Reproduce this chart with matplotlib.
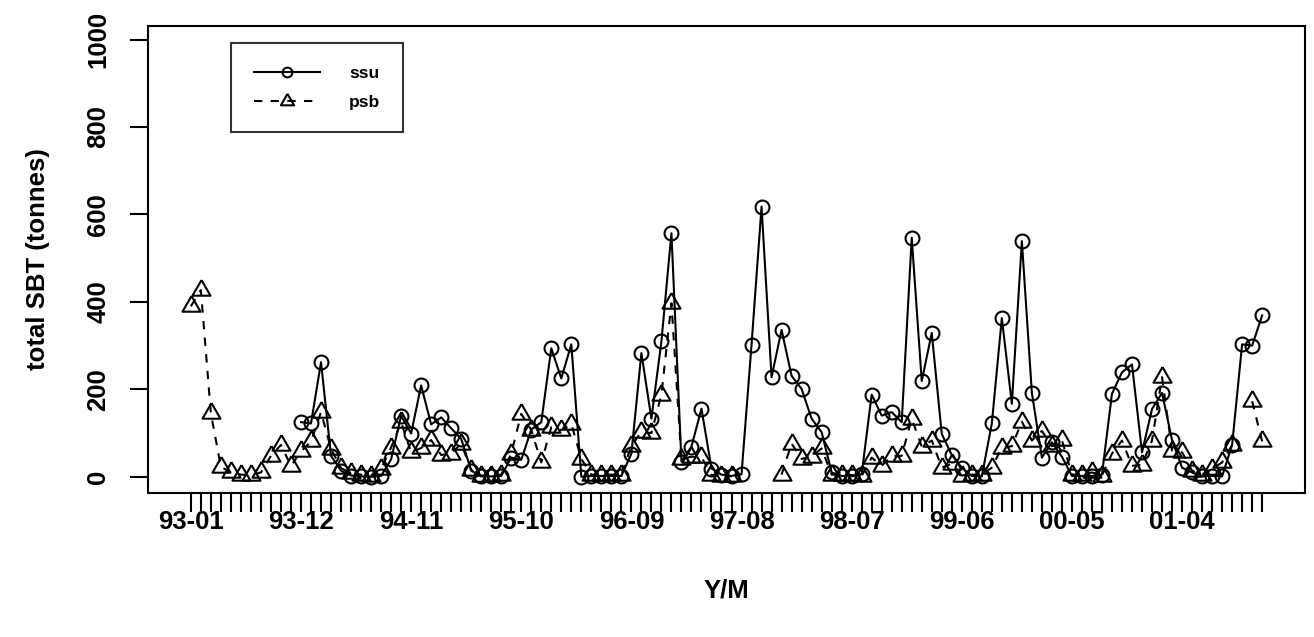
"""
Total SBT by month: ssu vs psb
"""

import numpy as np
import matplotlib.pyplot as plt
from matplotlib.lines import Line2D

plt.rcParams['font.family'] = ['Liberation Sans', 'DejaVu Sans']
plt.rcParams['font.weight'] = 'bold'

# =============================================
# 1. DATA (tonnes per month, 93-01 .. 01-12)
# =============================================
nan = np.nan

ssu = [nan, nan, nan, nan, nan, nan, nan, nan, nan, nan, nan,
       125, 122, 262, 48, 14, 3, 1, 0, 2, 40, 140, 99, 209, 120, 136, 111, 87, 14,
       1, 1, 2, 44, 39, 108, 125, 294, 225, 303, 0, 2, 2, 2, 2, 53, 283, 133, 310,
       557, 35, 69, 156, 19, 5, 2, 6, 302, 618, 228, 336, 231, 201, 133, 102, 10,
       2, 1, 6, 188, 140, 148, 125, 547, 219, 329, 98, 50, 21, 2, 1, 122, 363, 167,
       539, 192, 44, 79, 46, 2, 2, 2, 5, 190, 239, 257, 56, 155, 192, 84, 21, 10,
       1, 2, 1, 73, 303, 300, 369]

psb = [390, 427, 145, 23, 10, 5, 4, 10, 48, 73, 25,
       58, 81, 148, 64, 20, 8, 5, 3, 18, 67, 125, 56, 66, 84, 50, 53, 76, 16,
       3, 3, 5, 53, 144, 107, 33, 113, 107, 121, 41, 5, 5, 5, 5, 71, 103, 100, 188,
       397, 41, 46, 45, 4, 3, 1, nan, nan, nan, nan, 5, 76, 41, 46, 65, 5,
       5, 4, 2, 44, 25, 48, 48, 133, 69, 83, 21, 30, 3, 5, 5, 21, 67, 70,
       126, 83, 105, 70, 84, 5, 5, 10, 3, 53, 83, 25, 28, 83, 228, 60, 56, 14,
       5, 18, 33, 73, nan, 173, 81]

# labels that survive on the axis (one every 11 months)
tick_labels = ['93-01', '93-12', '94-11', '95-10', '96-09',
               '97-08', '98-07', '99-06', '00-05', '01-04']
label_step = 11

months = np.arange(len(ssu))

# =============================================
# 2. PLOT
# =============================================
fig = plt.figure(figsize=(13.14, 6.37), dpi=100)
ax = fig.add_axes([148 / 1314, 1 - 493 / 637, (1305 - 148) / 1314, (493 - 26) / 637])

# R-style equilateral triangle (pch = 2)
tri = [(0, 1.555), (1.347, -0.778), (-1.347, -0.778), (0, 1.555)]

ax.plot(months, ssu, color='black', linewidth=1.5, marker='o', markersize=10,
        markerfacecolor='none', markeredgewidth=1.5)
ax.plot(months, psb, color='black', linewidth=1.5, linestyle=(0, (4, 4)),
        marker=tri, markersize=15, markerfacecolor='none', markeredgewidth=1.5)

ax.set_xlim(-4.28, len(ssu) - 1 + 4.28)
ax.set_ylim(-37, 1031)

# every month gets a tick, only every 11th one a label
xlabels = [''] * len(months)
for k, lab in enumerate(tick_labels):
    xlabels[k * label_step] = lab
ax.set_xticks(months)
ax.set_xticklabels(xlabels, fontsize=18.5, fontweight='bold')

ax.set_yticks([0, 200, 400, 600, 800, 1000])
ax.set_yticklabels(['0', '200', '400', '600', '800', '1000'], fontsize=18.5,
                   fontweight='bold', rotation=90, va='center')

ax.tick_params(axis='x', direction='out', length=14, width=1.5, pad=-2)
ax.tick_params(axis='y', direction='out', length=13, width=1.5, pad=14)
for s in ax.spines.values():
    s.set_linewidth(1.5)

ax.set_xlabel('Y/M', fontsize=18.5, fontweight='bold', labelpad=32)
ax.set_ylabel('total SBT (tonnes)', fontsize=18.5, fontweight='bold', labelpad=26)

# legend
handles = [Line2D([], [], color='black', linewidth=1.5, marker='o', markersize=7,
                  markerfacecolor='none', markeredgewidth=1.5),
           Line2D([], [], color='black', linewidth=1.5, linestyle=(0, (4, 4)),
                  marker=tri, markersize=11, markerfacecolor='none', markeredgewidth=1.5)]
leg = ax.legend(handles, ['ssu', 'psb'], loc='upper left',
                bbox_to_anchor=((231 - 148) / 1157, (493 - 43) / 467),
                borderaxespad=0, frameon=True, fancybox=False,
                edgecolor='black', borderpad=1.3, labelspacing=0.8,
                handlelength=3.8, handletextpad=1.7, prop={'weight': 'bold', 'size': 12.5})
leg.get_frame().set_linewidth(1.5)

plt.savefig('out.png', dpi=100)
plt.close()
